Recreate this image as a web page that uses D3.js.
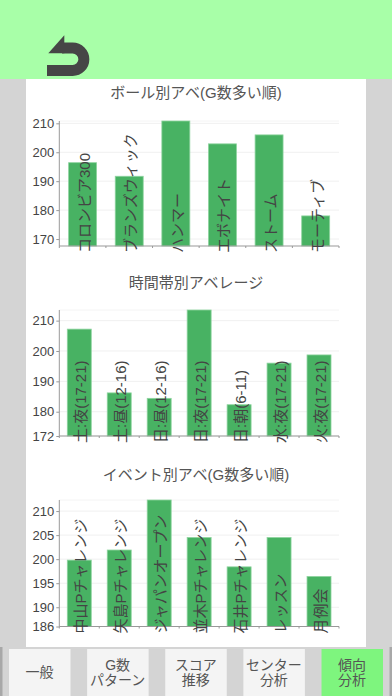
<!DOCTYPE html>
<html><head><meta charset="utf-8">
<script src="https://cdn.jsdelivr.net/npm/d3@7"></script>
<style>
html,body{margin:0;padding:0;background:#fff;}
svg{display:block;font-family:"Liberation Sans","Noto Sans CJK JP",sans-serif;}
</style></head>
<body><svg id="c" width="392" height="696"></svg>
<script>
// ---- data ----
const ballTitle = "ボール別アベ(G数多い順)";
const ballCats = ["コロンビア300","ブランズウィック","ハンマー","エボナイト","ストーム","モーティブ"];
const ballVals = [196.4,191.7,210.8,202.9,206.0,178.0];
const ballTicks = [170,180,190,200,210];

const timeTitle = "時間帯別アベレージ";
const timeCats = ["土:夜(17-21)","土:昼(12-16)","日:昼(12-16)","日:夜(17-21)","日:朝(6-11)","水:夜(17-21)","火:夜(17-21)"];
const timeVals = [207.2,186.2,184.4,213.5,182.3,196.0,198.7];
const timeTicks = [172,180,190,200,210];

const eventTitle = "イベント別アベ(G数多い順)";
const eventCats = ["中山Pチャレンジ","矢島Pチャレンジ","ジャパンオープン","並木Pチャレンジ","石井Pチャレンジ","レッスン","月例会"];
const eventVals = [199.8,201.9,212.3,204.5,198.4,204.5,196.4];
const eventTicks = [186,190,195,200,205,210];

const tabLabels = [["一般"],["G数","パターン"],["スコア","推移"],["センター","分析"],["傾向","分析"]];

const svg = d3.select("#c");

// background layout
svg.append("rect").attr("x",0).attr("y",0).attr("width",392).attr("height",696).attr("fill","#d4d4d4");
svg.append("rect").attr("x",0).attr("y",0).attr("width",392).attr("height",79).attr("fill","#a8ffa8");
svg.append("rect").attr("x",26).attr("y",79).attr("width",340).attr("height",568).attr("fill","#ffffff");

// back icon
const ic = svg.append("g").attr("fill","#464646");
svg.append("path").attr("d","M62,48 H72.6 A11.2,11.2 0 0 1 72.6,70.5 H47")
  .attr("fill","none").attr("stroke","#464646").attr("stroke-width",11);
ic.append("path").attr("d","M48.3,53.3 L64.3,35.3 L64.3,53.3 Z");

function drawChart(title, cats, vals, ticks, domain, top, bottom, titleY){
  const x0 = 59.3, x1 = 339;
  const x = d3.scaleBand().domain(cats).range([x0,x1]).paddingInner(0.4).paddingOuter(0.2);
  const y = d3.scaleLinear().domain(domain).range([bottom,top]);
  const g = svg.append("g");
  g.append("text").attr("x",196).attr("y",titleY).attr("text-anchor","middle")
    .attr("dominant-baseline","central").attr("font-size",15).attr("fill","#555").text(title);
  // grid
  g.selectAll("line.grid").data(ticks).join("line").attr("class","grid")
    .attr("x1",x0).attr("x2",x1).attr("y1",d=>y(d)).attr("y2",d=>y(d))
    .attr("stroke","#f0f0f0").attr("stroke-width",1);
  g.append("line").attr("x1",x0).attr("x2",x1).attr("y1",top).attr("y2",top).attr("stroke","#f4f4f4");
  // bars
  g.selectAll("rect.bar").data(vals).join("rect").attr("class","bar")
    .attr("x",(d,i)=>x(cats[i])).attr("width",x.bandwidth())
    .attr("y",d=>y(d)).attr("height",d=>bottom-y(d))
    .attr("fill","#48b263").attr("stroke","#8ed49f").attr("stroke-width",0.8);
  // y axis
  const ya = g.append("g").attr("transform",`translate(${x0},0)`)
    .call(d3.axisLeft(y).tickValues(ticks).tickSize(3).tickPadding(2).tickFormat(d3.format("d")));
  ya.select(".domain").attr("d",`M-0,${top}V${bottom}`).attr("stroke","#999");
  ya.selectAll(".tick line").attr("stroke","#999");
  ya.selectAll(".tick text").attr("font-size",13).attr("fill","#444").attr("font-family","Liberation Sans, sans-serif");
  // x axis
  const xa = g.append("g").attr("transform",`translate(0,${bottom})`);
  xa.append("line").attr("x1",x0).attr("x2",x1).attr("y1",0).attr("y2",0).attr("stroke","#999");
  const bounds = d3.range(cats.length+1).map(i=>x0 + (x1-x0)*i/cats.length);
  xa.selectAll("line.tk").data(bounds).join("line").attr("class","tk")
    .attr("x1",d=>d).attr("x2",d=>d).attr("y1",0).attr("y2",2).attr("stroke","#999");
  // labels
  g.selectAll("text.lab").data(cats).join("text").attr("class","lab")
    .attr("transform",d=>`translate(${x(d)+x.bandwidth()/2+1.5},${bottom+7}) rotate(-90)`)
    .attr("text-anchor","start").attr("dominant-baseline","central")
    .attr("font-size",15).attr("fill","#444").text(d=>d);
}

drawChart(ballTitle, ballCats, ballVals, ballTicks, [167.6,210.8], 121, 246, 92);
drawChart(timeTitle, timeCats, timeVals, timeTicks, [172,213.5], 310, 436, 282);
drawChart(eventTitle, eventCats, eventVals, eventTicks, [186,212.3], 500, 626.5, 474);

// tab bar
svg.append("rect").attr("x",0).attr("y",647).attr("width",2.5).attr("height",49).attr("fill","#a8a8a8");
svg.append("rect").attr("x",389.5).attr("y",647).attr("width",2.5).attr("height",49).attr("fill","#a8a8a8");
const tabX = d3.scalePoint().domain(d3.range(tabLabels.length)).range([39.5,352]);
const tg = svg.selectAll("g.tab").data(tabLabels).join("g").attr("class","tab")
  .attr("transform",(d,i)=>`translate(${tabX(i)},0)`);
tg.append("rect").attr("x",-30.5).attr("y",649).attr("width",61.5).attr("height",47)
  .attr("fill",(d,i)=>i===tabLabels.length-1?"#7ef57e":"#f4f4f4");
tg.each(function(d){
  const g = d3.select(this);
  const ys = d.length===1 ? [671.5] : [664.5,679.5];
  d.forEach((t,k)=>{
    g.append("text").attr("x",0).attr("y",ys[k]).attr("text-anchor","middle")
      .attr("dominant-baseline","central").attr("font-size",14).attr("fill","#555").text(t);
  });
});
</script></body></html>
